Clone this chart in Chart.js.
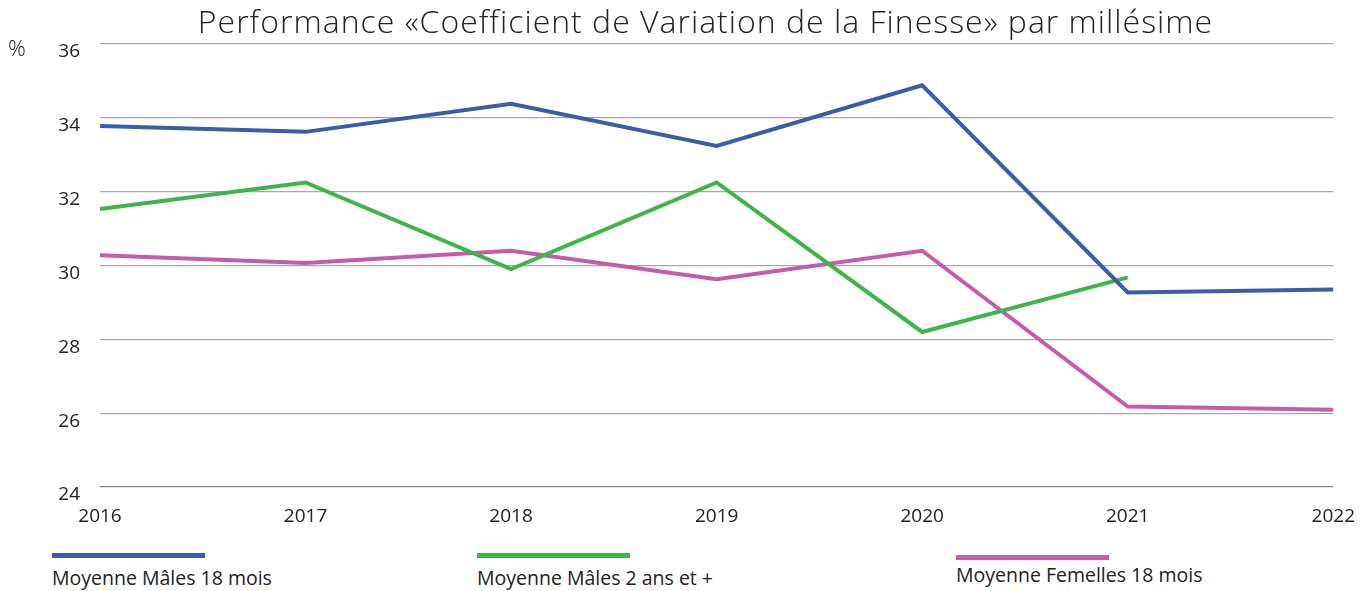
<!DOCTYPE html>
<html>
<head>
<meta charset="utf-8">
<script src="https://cdn.jsdelivr.net/npm/chart.js@4.4.1/dist/chart.umd.min.js"></script>
<style>
  body { margin: 0; background: #fff; font-family: "Open Sans", sans-serif; color: #222; }
  #wrap { position: relative; width: 1365px; height: 591px; }
  #boite { position: absolute; left: 0; top: 0; width: 1365px; height: 530px; }
  #titre { position: absolute; left: 0; width: 1365px; top: -1px; padding-left: 46px; box-sizing: border-box; text-align: center; font-size: 32px; font-weight: 300; letter-spacing: 1px; color: #222; }
  #pourcent { position: absolute; left: 8px; top: 32px; font-size: 22px; font-weight: 300; color: #222; }
  .leg { position: absolute; font-size: 19.5px; color: #222; }
  .leg .trait { width: 153px; height: 5px; margin-bottom: 6px; }
</style>
</head>
<body>
<div id="wrap">
  <div id="boite"><canvas id="graphique"></canvas></div>
  <div id="titre">Performance «Coefficient de Variation de la Finesse» par millésime</div>
  <div id="pourcent">%</div>
  <div class="leg" style="left:52px; top:553px;"><div class="trait" style="background:#3c5ba8"></div>Moyenne Mâles 18 mois</div>
  <div class="leg" style="left:477px; top:553px;"><div class="trait" style="background:#3db54b"></div>Moyenne Mâles 2 ans et +</div>
  <div class="leg" style="left:956px; top:555px;"><div class="trait" style="background:#c65ba8; margin-bottom:1px"></div>Moyenne Femelles 18 mois</div>
</div>
<script>
// données
const millesimes = ['2016', '2017', '2018', '2019', '2020', '2021', '2022']
const malesDixHuitMois = [33.78, 33.62, 34.38, 33.24, 34.88, 29.27, 29.35]
const malesDeuxAns = [31.53, 32.25, 29.9, 32.25, 28.2, 29.68, null]
const femellesDixHuitMois = [30.28, 30.07, 30.4, 29.63, 30.4, 26.18, 26.09]
const ticksY = [24, 26, 28, 30, 32, 34, 36]

const police = { family: '"Open Sans", sans-serif', size: 19, weight: 400 }

function serie(label, data, couleur) {
    return {
        label: label,
        data: data,
        borderColor: couleur,
        backgroundColor: couleur,
        borderWidth: 4,
        pointRadius: 0,
        tension: 0,
        spanGaps: false
    }
}

const config = {
    type: 'line',
    data: {
        labels: millesimes,
        datasets: [
            serie('Moyenne Mâles 18 mois', malesDixHuitMois, '#3c5ba8'),
            serie('Moyenne Mâles 2 ans et +', malesDeuxAns, '#3db54b'),
            serie('Moyenne Femelles 18 mois', femellesDixHuitMois, '#c65ba8')
        ]
    },
    options: {
        responsive: true,
        maintainAspectRatio: false,
        animation: false,
        layout: { padding: { top: 44, right: 27, left: 0, bottom: 0 } },
        plugins: {
            legend: { display: false },
            title: { display: false },
            tooltip: { enabled: false }
        },
        scales: {
            x: {
                offset: false,
                grid: { display: false },
                border: { display: false },
                afterFit: (axe) => { axe.height = 43 },
                ticks: { color: '#222', font: police, padding: 10, maxRotation: 0 }
            },
            y: {
                min: 24,
                max: 36,
                afterBuildTicks: (axe) => { axe.ticks = ticksY.map(v => ({ value: v })) },
                afterFit: (axe) => { axe.width = 100 },
                grid: {
                    color: (ctx) => ctx.tick && ctx.tick.value === 24 ? '#8a8a8a' : '#a8a8a8',
                    lineWidth: 1.3,
                    drawTicks: false
                },
                border: { display: false },
                ticks: { color: '#222', font: police, padding: 20, labelOffset: 8 }
            }
        }
    }
}

new Chart(document.getElementById('graphique'), config)
</script>
</body>
</html>
